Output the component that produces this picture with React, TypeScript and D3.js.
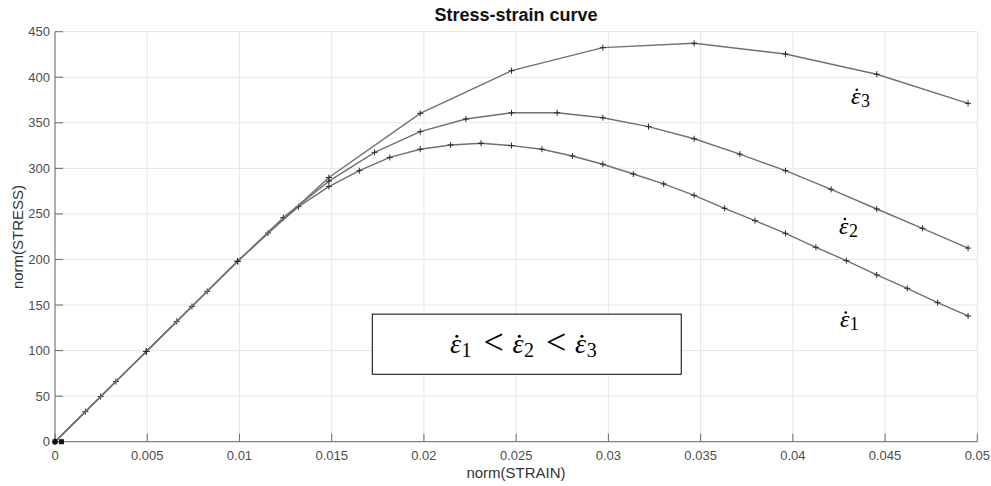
import { useEffect, useRef } from 'react';
import * as d3 from 'd3';

// strain points of the three rates (end at 0.0495)
const strain1 = [0, 0.00165, 0.0033, 0.00495, 0.0066, 0.00825, 0.0099, 0.01155, 0.0132, 0.01485, 0.0165,
    0.01815, 0.0198, 0.02145, 0.0231, 0.02475, 0.0264, 0.02805, 0.0297, 0.03135, 0.033, 0.03465, 0.0363,
    0.03795, 0.0396, 0.04125, 0.0429, 0.04455, 0.0462, 0.04785, 0.0495];
const stress1 = [0, 33, 66, 99, 132, 165, 198, 229, 258, 280, 297.5, 312, 321, 325.7, 327.5, 325, 321,
    313.6, 304.5, 293.8, 282.9, 270.4, 256.2, 242.6, 228.7, 213.4, 198.7, 183, 168.4, 152.6, 138];

const strain2 = [0, 0.002475, 0.00495, 0.007425, 0.0099, 0.012375, 0.01485, 0.017325, 0.0198, 0.022275,
    0.02475, 0.027225, 0.0297, 0.032175, 0.03465, 0.037125, 0.0396, 0.042075, 0.04455, 0.047025, 0.0495];
const stress2 = [0, 49.5, 99, 148.5, 198, 246, 286, 317.6, 340.3, 354.2, 361, 361, 355.6, 345.8, 332.5,
    315.6, 297.5, 277, 255.4, 234.2, 212.5];

const strain3 = [0, 0.00495, 0.0099, 0.01485, 0.0198, 0.02475, 0.0297, 0.03465, 0.0396, 0.04455, 0.0495];
const stress3 = [0, 99, 198, 290, 360.4, 407.2, 432.5, 437.3, 425.5, 403.3, 371.4];

const nearZeroStrain = [0, 0.00035];

const xTicks = [0, 0.005, 0.01, 0.015, 0.02, 0.025, 0.03, 0.035, 0.04, 0.045, 0.05];
const xTickLabels = ['0', '0.005', '0.01', '0.015', '0.02', '0.025', '0.03', '0.035', '0.04', '0.045', '0.05'];
const yTicks = [0, 50, 100, 150, 200, 250, 300, 350, 400, 450];
const yTickLabels = ['0', '50', '100', '150', '200', '250', '300', '350', '400', '450'];

// rate labels (left edge / baseline, in data units)
const rateLabels = [
    { sub: '3', x: 0.04315, y: 370.5 },
    { sub: '2', x: 0.04250, y: 228.5 },
    { sub: '1', x: 0.04255, y: 126 },
];

const W = 991;
const H = 486;
const mathFont = 'Liberation Serif, DejaVu Serif, serif';

// draws ε with a dot above and an upright subscript; returns the end x
function drawEps(g, x0, y0, sub, size, subSize) {
    const t = g.append('text').attr('x', x0).attr('y', y0)
        .attr('font-family', mathFont).attr('font-size', size).attr('font-style', 'italic')
        .attr('fill', '#000').text('\u03B5');
    const w = t.node().getComputedTextLength();
    g.append('circle')
        .attr('cx', x0 + w * 0.62).attr('cy', y0 - size * 0.6)
        .attr('r', size * 0.055).attr('fill', '#000');
    const s = g.append('text').attr('x', x0 + w + 0.5).attr('y', y0 + size * 0.14)
        .attr('font-family', mathFont).attr('font-size', subSize)
        .attr('fill', '#000').text(sub);
    return x0 + w + 0.5 + s.node().getComputedTextLength();
}

export default function App() {
    const svgRef = useRef(null);

    useEffect(() => {
        const svg = d3.select(svgRef.current);
        svg.selectAll('*').remove();

        const x = d3.scaleLinear().domain([0, 0.05]).range([55, 977.3]);
        const y = d3.scaleLinear().domain([0, 450]).range([441.7, 31.7]);
        const font = 'Liberation Sans, Arial, Helvetica, sans-serif';

        // grid
        const grid = svg.append('g').attr('stroke', '#e6e6e6').attr('stroke-width', 1);
        grid.selectAll('.gx').data(xTicks).enter().append('line')
            .attr('x1', d => x(d)).attr('x2', d => x(d))
            .attr('y1', y(0)).attr('y2', y(450));
        grid.selectAll('.gy').data(yTicks).enter().append('line')
            .attr('y1', d => y(d)).attr('y2', d => y(d))
            .attr('x1', x(0)).attr('x2', x(0.05));

        // axes
        const axisCol = '#6b6b6b';
        svg.append('line').attr('x1', x(0)).attr('x2', x(0.05)).attr('y1', y(0)).attr('y2', y(0))
            .attr('stroke', axisCol).attr('stroke-width', 1);
        svg.append('line').attr('x1', x(0)).attr('x2', x(0)).attr('y1', y(0)).attr('y2', y(450))
            .attr('stroke', axisCol).attr('stroke-width', 1);

        svg.selectAll('.xt').data(xTicks).enter().append('line')
            .attr('x1', d => x(d)).attr('x2', d => x(d))
            .attr('y1', y(0)).attr('y2', y(0) - 8)
            .attr('stroke', axisCol);
        svg.selectAll('.yt').data(yTicks).enter().append('line')
            .attr('y1', d => y(d)).attr('y2', d => y(d))
            .attr('x1', x(0)).attr('x2', x(0) + 8)
            .attr('stroke', axisCol);

        svg.selectAll('.xl').data(xTicks).enter().append('text')
            .attr('x', d => x(d)).attr('y', y(0) + 18)
            .attr('text-anchor', 'middle')
            .attr('font-family', font).attr('font-size', 13).attr('fill', '#4d4d4d')
            .text((d, i) => xTickLabels[i]);
        svg.selectAll('.yl').data(yTicks).enter().append('text')
            .attr('x', x(0) - 5).attr('y', d => y(d) + 4.5)
            .attr('text-anchor', 'end')
            .attr('font-family', font).attr('font-size', 13).attr('fill', '#4d4d4d')
            .text((d, i) => yTickLabels[i]);

        svg.append('text').attr('x', 516).attr('y', 478).attr('text-anchor', 'middle')
            .attr('font-family', font).attr('font-size', 15).attr('fill', '#333')
            .text('norm(STRAIN)');
        svg.append('text').attr('transform', 'translate(23,237) rotate(-90)').attr('text-anchor', 'middle')
            .attr('font-family', font).attr('font-size', 15).attr('fill', '#333')
            .text('norm(STRESS)');
        svg.append('text').attr('x', 516).attr('y', 21).attr('text-anchor', 'middle')
            .attr('font-family', font).attr('font-size', 18).attr('font-weight', 'bold').attr('fill', '#111')
            .text('Stress-strain curve');

        // curves
        const series = [
            { xs: strain1, ys: stress1 },
            { xs: strain2, ys: stress2 },
            { xs: strain3, ys: stress3 },
        ];
        const line = d3.line().x(d => x(d[0])).y(d => y(d[1]));
        series.forEach(s => {
            const pts = s.xs.map((v, i) => [v, s.ys[i]]);
            svg.append('path').datum(pts)
                .attr('d', line)
                .attr('fill', 'none')
                .attr('stroke', '#707070')
                .attr('stroke-width', 1.4);
            const m = svg.append('g').attr('stroke', '#2a2a2a').attr('stroke-width', 1);
            m.selectAll('.p').data(pts).enter().append('path')
                .attr('d', d => {
                    const cx = x(d[0]), cy = y(d[1]);
                    return `M${cx - 3},${cy}H${cx + 3}M${cx},${cy - 3}V${cy + 3}`;
                });
        });

        svg.selectAll('.z').data(nearZeroStrain).enter().append('rect')
            .attr('x', d => x(d) - 2.5).attr('y', y(0) - 2.5)
            .attr('width', 5).attr('height', 5)
            .attr('fill', '#111');

        // rate labels
        rateLabels.forEach(l => {
            drawEps(svg, x(l.x), y(l.y), l.sub, 24, 18);
        });

        // annotation box
        svg.append('rect')
            .attr('x', x(0.0172)).attr('y', y(140))
            .attr('width', x(0.03395) - x(0.0172)).attr('height', y(74) - y(140))
            .attr('fill', 'white').attr('stroke', '#000').attr('stroke-width', 1);

        const bx = 450;
        const by = 353;
        let cur = bx;
        ['1', '2', '3'].forEach((s, i) => {
            cur = drawEps(svg, cur, by, s, 28, 20);
            if (i < 2) {
                svg.append('text').attr('x', cur + 22).attr('y', by + 1)
                    .attr('text-anchor', 'middle')
                    .attr('font-family', mathFont).attr('font-size', 36).attr('fill', '#000')
                    .text('<');
                cur += 41;
            }
        });
    }, []);

    return (
        <div style={{ position: 'absolute', left: 0, top: 0, width: W, height: H, background: '#fff' }}>
            <svg ref={svgRef} width={W} height={H} style={{ display: 'block' }}></svg>
        </div>
    );
}
